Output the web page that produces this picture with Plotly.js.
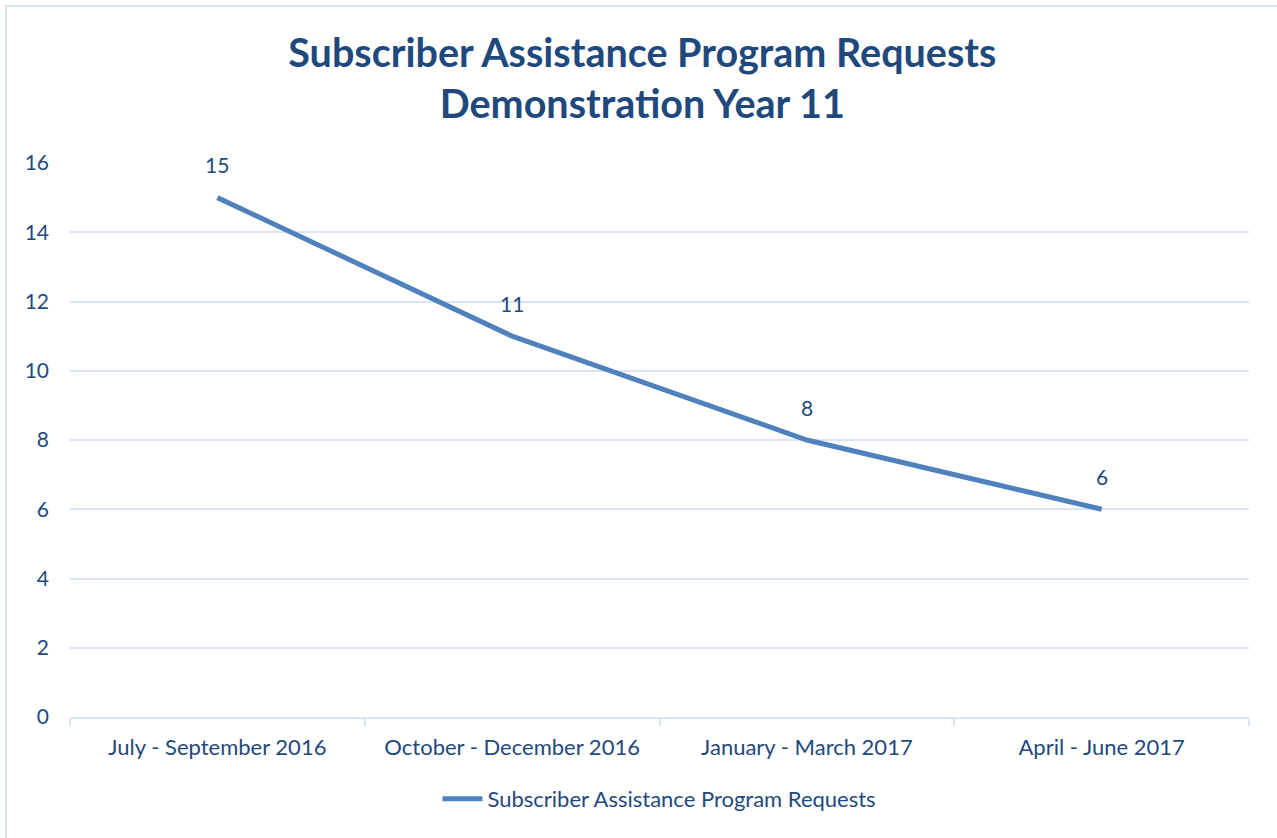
<!DOCTYPE html>
<html>
<head>
<meta charset="utf-8">
<script src="https://cdn.plot.ly/plotly-3.0.1.min.js"></script>
<style>
  html, body { margin: 0; padding: 0; background: #ffffff; }
  #wrap { position: relative; width: 1277px; height: 838px; overflow: hidden; }
  #frame { position: absolute; left: 5px; top: 5px; width: 1300px; height: 900px;
           border-top: 2px solid #D9E3F1; border-left: 2px solid #D9E3F1; pointer-events: none; }
  #chart { width: 1277px; height: 838px; }
</style>
</head>
<body>
<div id="wrap">
  <div id="chart"></div>
  <div id="frame"></div>
</div>
<script>
const categories = ["July - September 2016", "October - December 2016", "January - March 2017", "April - June 2017"];
const requests = [15, 11, 8, 6];
const seriesName = "Subscriber Assistance Program Requests";
const yTicks = [0, 2, 4, 6, 8, 10, 12, 14, 16];

const textColor = "#1F497D";
const gridColor = "#D9E5F4";
const lineColor = "#4F81BD";
const fontFamily = "Lato, 'Open Sans', sans-serif";

const trace = {
  x: categories,
  y: requests,
  type: "scatter",
  mode: "lines",
  name: seriesName,
  line: { color: lineColor, width: 5 },
  hoverinfo: "x+y"
};

const annotations = categories.map((c, i) => ({
  x: c, y: requests[i], xref: "x", yref: "y",
  text: String(requests[i]), showarrow: false,
  yshift: 33, font: { family: fontFamily, size: 21, color: textColor }
}));

const layout = {
  width: 1277, height: 838,
  margin: { l: 70, r: 28, t: 163, b: 121 },
  paper_bgcolor: "#ffffff",
  plot_bgcolor: "#ffffff",
  font: { family: fontFamily, size: 21, color: textColor },
  title: {
    text: "<b>Subscriber Assistance Program Requests<br>Demonstration Year 11</b>",
    font: { family: fontFamily, size: 39.5, color: textColor },
    x: 0.503, xanchor: "center",
    y: 0.92, yanchor: "top"
  },
  xaxis: {
    type: "category",
    range: [-0.5, 3.5],
    tickson: "boundaries",
    ticks: "outside",
    ticklen: 7,
    tickwidth: 2,
    tickcolor: gridColor,
    showline: true,
    linecolor: gridColor,
    linewidth: 2,
    showgrid: false,
    zeroline: false,
    ticklabelstandoff: 10,
    tickfont: { family: fontFamily, size: 22, color: textColor },
    fixedrange: true
  },
  yaxis: {
    range: [0, 16],
    tickvals: yTicks,
    ticktext: yTicks.map(String),
    showgrid: true,
    gridcolor: gridColor,
    gridwidth: 2,
    zeroline: false,
    showline: false,
    ticks: "",
    ticklabelstandoff: 20,
    tickfont: { family: fontFamily, size: 21, color: textColor },
    fixedrange: true
  },
  showlegend: true,
  legend: {
    orientation: "h",
    x: 0.5, xanchor: "center",
    y: -0.11, yanchor: "top",
    font: { family: fontFamily, size: 22, color: textColor },
    itemwidth: 40
  },
  annotations: annotations
};

Plotly.newPlot("chart", [trace], layout, { displayModeBar: false, staticPlot: true });
</script>
</body>
</html>
